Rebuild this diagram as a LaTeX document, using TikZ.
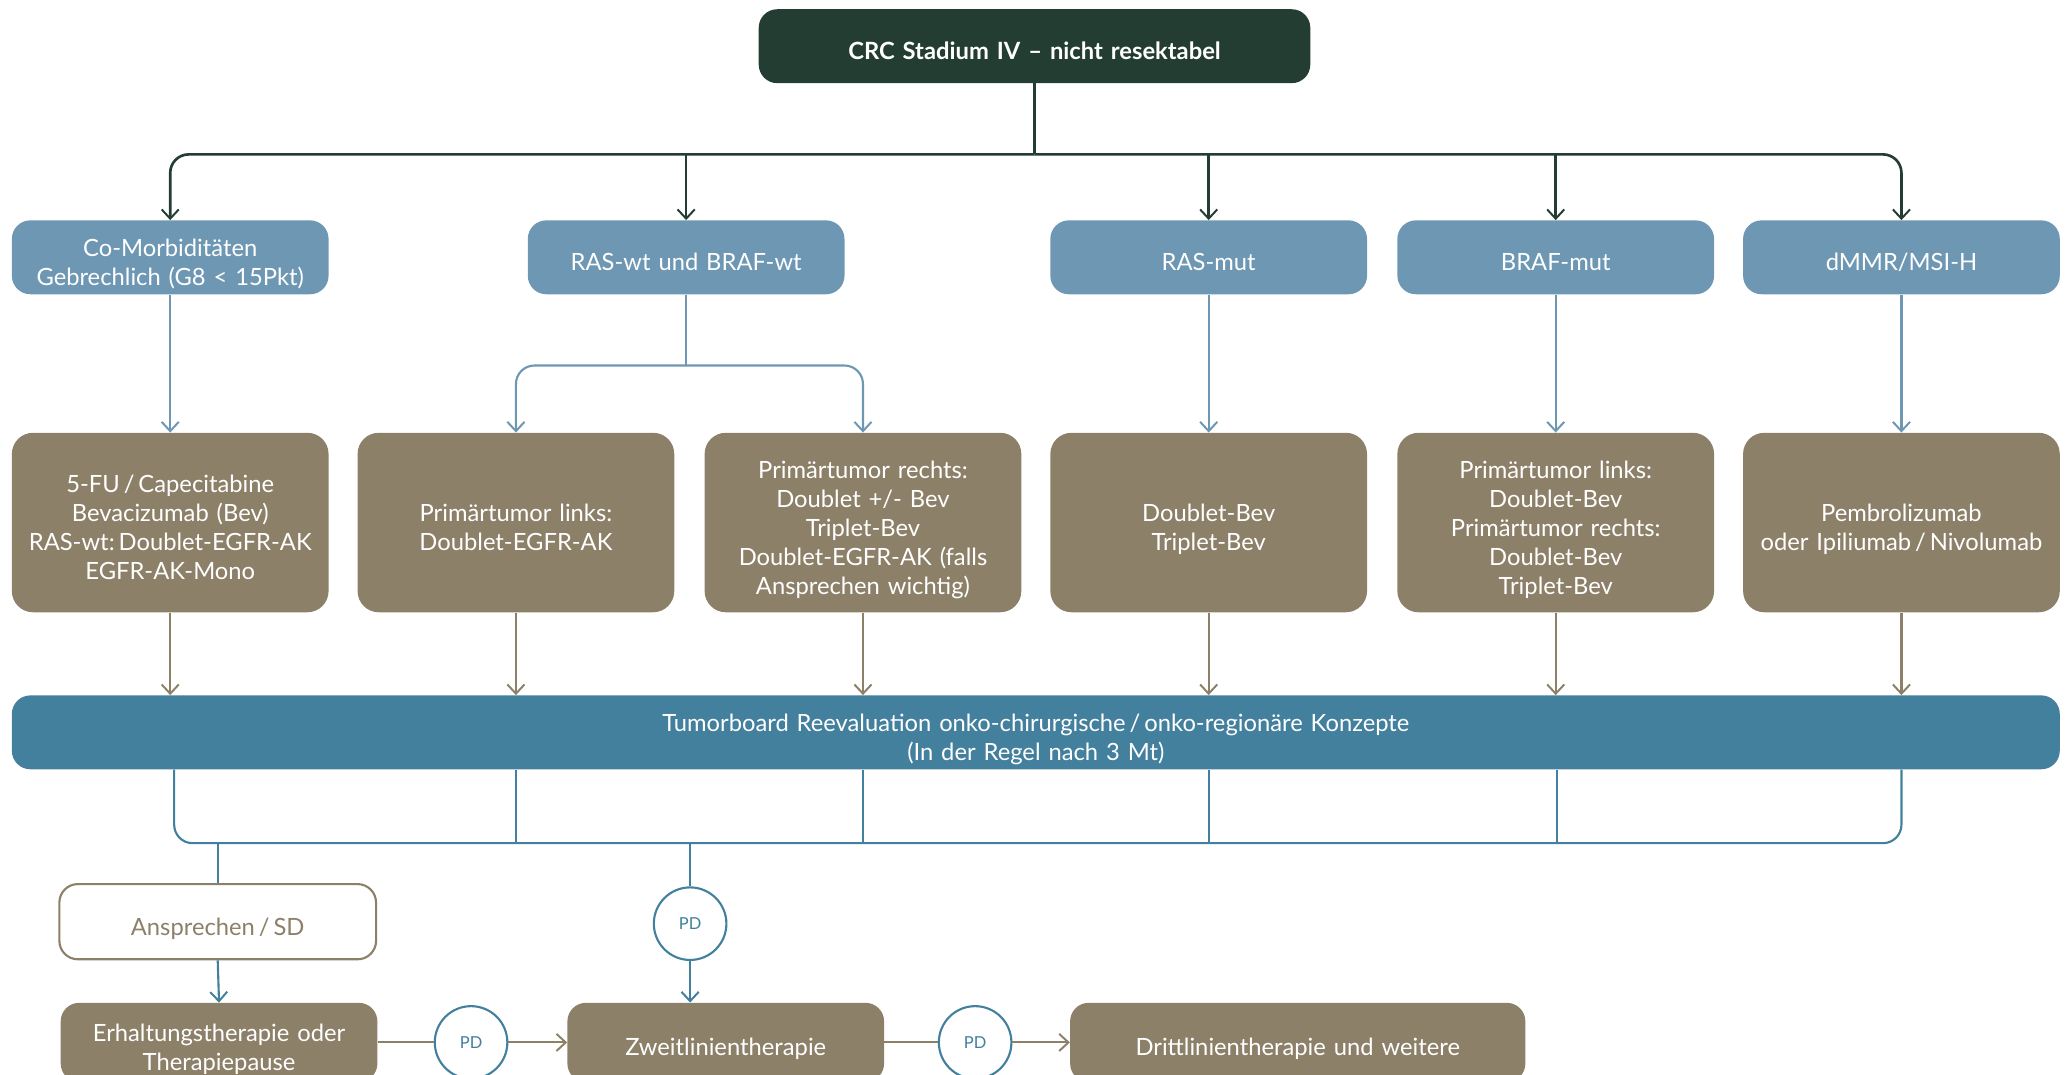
\documentclass[tikz,border=0pt]{standalone}
\usepackage{fontspec}
\setmainfont{Lato}
\usetikzlibrary{arrows.meta}
\definecolor{cDark}{HTML}{243D33}
\definecolor{cLight}{HTML}{6D97B3}
\definecolor{cBrown}{HTML}{8D8069}
\definecolor{cTeal}{HTML}{42809D}
\begin{document}
\begin{tikzpicture}[x=1pt,y=-1pt,
  box/.style={rounded corners=14pt, minimum width=240pt, minimum height=56pt,
    text width=236pt, align=center, inner sep=0pt,
    font=\fontsize{18}{22}\selectfont,
    execute at begin node={\rule{0pt}{24pt}},
    execute at end node={\rule[-3.5pt]{0pt}{3.5pt}}},
  headbox/.style={box, fill=cDark, text=white, minimum width=418pt, text width=400pt,
    font=\fontsize{18}{22}\selectfont\bfseries},
  critbox/.style={box, fill=cLight, text=white},
  therbox/.style={box, fill=cBrown, text=white, minimum height=136pt, rounded corners=16pt},
  boardbox/.style={box, fill=cTeal, text=white, minimum width=1552pt, text width=1500pt},
  respbox/.style={box, fill=white, draw=cBrown, line width=1.6pt, text=cBrown, minimum width=240pt, minimum height=57pt},
  linebox/.style={box, fill=cBrown, text=white, minimum height=60pt},
  pdnode/.style={circle, draw=cTeal, fill=white, line width=1.6pt, minimum size=55pt,
    inner sep=0pt, text=cTeal, font=\fontsize{12.5}{14}\selectfont},
  tip/.style={-{Straight Barb[length=7pt,width=13pt,line width=1.5pt]}},
  darkline/.style={draw=cDark, line width=2pt},
  lightline/.style={draw=cLight, line width=1.6pt},
  brownline/.style={draw=cBrown, line width=1.6pt},
  tealline/.style={draw=cTeal, line width=1.6pt}
]
\useasboundingbox (0,0) rectangle (1568,814);
\clip (0,0) rectangle (1568,814);

% start node
\node[headbox] (top) at (784,35) {CRC Stadium IV -- nicht resektabel};

% criteria row
\node[critbox] (k1) at (129,195) {Co-Morbiditäten\\Gebrechlich (G8 < 15Pkt)};
\node[critbox] (k2) at (520,195) {RAS-wt und BRAF-wt};
\node[critbox] (k3) at (916,195) {RAS-mut};
\node[critbox] (k4) at (1179,195) {BRAF-mut};
\node[critbox] (k5) at (1441,195) {dMMR/MSI-H};

% first-line therapy row
\node[therbox] (t1) at (129,396) {5-FU\,/\,Capecitabine\\Bevacizumab (Bev)\\RAS-wt:\,Doublet-EGFR-AK\\EGFR-AK-Mono};
\node[therbox] (t2) at (391,396) {Primärtumor links:\\Doublet-EGFR-AK};
\node[therbox] (t3) at (654,396) {Primärtumor rechts:\\Doublet +/- Bev\\Triplet-Bev\\Doublet-EGFR-AK (falls\\Ansprechen wichtig)};
\node[therbox] (t4) at (916,396) {Doublet-Bev\\Triplet-Bev};
\node[therbox] (t5) at (1179,396) {Primärtumor links:\\Doublet-Bev\\Primärtumor rechts:\\Doublet-Bev\\Triplet-Bev};
\node[therbox] (t6) at (1441,396) {Pembrolizumab\\oder Ipiliumab\,/\,Nivolumab};

% tumour board
\node[boardbox] (tb) at (785,555) {Tumorboard Reevaluation onko-chirurgische\,/\,onko-regionäre Konzepte\\(In der Regel nach 3 Mt)};

% follow-up
\node[respbox] (resp) at (165,698.5) {Ansprechen\,/\,SD};
\node[pdnode] (pd1) at (523,700) {PD};
\node[linebox] (erh) at (166,790) {Erhaltungstherapie oder\\Therapiepause};
\node[linebox] (zweit) at (550,790) {Zweitlinientherapie};
\node[linebox, minimum width=345pt, text width=335pt] (dritt) at (983.5,790) {Drittlinientherapie und weitere};
\node[pdnode] (pd2) at (357,790) {PD};
\node[pdnode] (pd3) at (739,790) {PD};

% top distribution
\coordinate (bus1) at (784,117);
\draw[darkline] (top.south) -- (bus1);
\draw[darkline, tip, rounded corners=14pt] (bus1) -| (k1.north);
\draw[darkline, tip, rounded corners=14pt] (bus1) -| (k5.north);
\foreach \k in {k2,k3,k4}
  \draw[darkline, tip] (\k.north |- bus1) -- (\k.north);

% criteria to therapies
\draw[lightline, tip] (k1.south) -- (t1.north);
\coordinate (split) at (520,277);
\draw[lightline] (k2.south) -- (split);
\draw[lightline, tip, rounded corners=14pt] (split) -| (t2.north);
\draw[lightline, tip, rounded corners=14pt] (split) -| (t3.north);
\draw[lightline, tip] (k3.south) -- (t4.north);
\draw[lightline, tip] (k4.south) -- (t5.north);
\draw[lightline, tip] (k5.south) -- (t6.north);

% therapies to tumour board
\foreach \t in {t1,t2,t3,t4,t5,t6}
  \draw[brownline, tip] (\t.south) -- (\t.south |- tb.north);

% tumour board to outcomes
\coordinate (bus2) at (784,639);
\draw[tealline, rounded corners=14pt] (tb.south -| 132,0) |- (bus2) -| (tb.south -| 1441,0);
\foreach \x in {391,654,916,1180}
  \draw[tealline] (tb.south -| \x,0) -- (\x,639);
\draw[tealline] (resp.north |- bus2) -- (resp.north);
\draw[tealline] (pd1.north |- bus2) -- (pd1.north);
\draw[tealline, tip] (resp.south) -- (erh.north);
\draw[tealline, tip] (pd1.south) -- (pd1.south |- zweit.north);

% later lines
\draw[brownline] (erh.east) -- (pd2.west);
\draw[brownline, tip] (pd2.east) -- (zweit.west);
\draw[brownline] (zweit.east) -- (pd3.west);
\draw[brownline, tip] (pd3.east) -- (dritt.west);
\end{tikzpicture}
\end{document}
